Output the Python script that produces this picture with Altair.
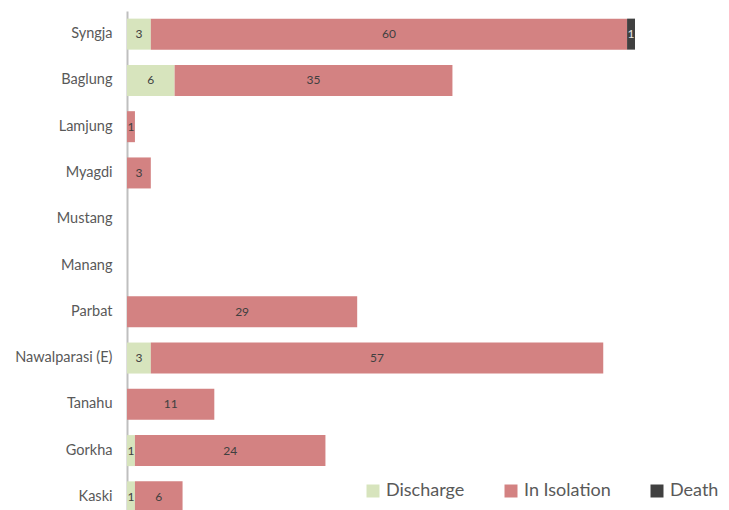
import altair as alt
import pandas as pd

districts = ["Syngja", "Baglung", "Lamjung", "Myagdi", "Mustang", "Manang",
             "Parbat", "Nawalparasi (E)", "Tanahu", "Gorkha", "Kaski"]
discharge = [3, 6, 0, 0, 0, 0, 0, 3, 0, 1, 1]
isolation = [60, 35, 1, 3, 0, 0, 29, 57, 11, 24, 6]
death = [1, 0, 0, 0, 0, 0, 0, 0, 0, 0, 0]

statuses = ["Discharge", "In Isolation", "Death"]
colors = ["#d7e4bd", "#d38282", "#404040"]

rows = []
for i, d in enumerate(districts):
    for k, (s, vals) in enumerate(zip(statuses, [discharge, isolation, death])):
        rows.append({"district": d, "status": s, "value": vals[i], "order": k})
df = pd.DataFrame(rows)

FONT = "Lato"

y_enc = alt.Y("district:N", sort=districts,
              axis=alt.Axis(title=None, ticks=False, grid=False, domain=True,
                            domainColor="#bfbfbf", domainWidth=2,
                            labelFont=FONT, labelFontSize=14.5, labelColor="#595959",
                            labelPadding=15),
              scale=alt.Scale(paddingInner=0.33, paddingOuter=0.165))

bars = alt.Chart(df).mark_bar().encode(
    y=y_enc,
    x=alt.X("value:Q", stack="zero", axis=None, scale=alt.Scale(domain=[0, 64], nice=False)),
    color=alt.Color("status:N", sort=statuses,
                    scale=alt.Scale(domain=statuses, range=colors),
                    legend=alt.Legend(title=None, orient="none", direction="horizontal",
                                      legendX=237, legendY=471,
                                      symbolType="square", symbolSize=169,
                                      symbolStrokeWidth=0,
                                      labelFont=FONT, labelFontSize=18, labelColor="#595959",
                                      labelOffset=4, columnPadding=37)),
    order=alt.Order("order:Q"),
)

labels = alt.Chart(df).transform_stack(
    stack="value", groupby=["district"], as_=["x0", "x1"],
    sort=[alt.SortField("order", order="ascending")]
).transform_calculate(
    mid="(datum.x0 + datum.x1) / 2"
).transform_filter("datum.value > 0").mark_text(
    font=FONT, fontSize=12, baseline="middle", align="center"
).encode(
    y=alt.Y("district:N", sort=districts),
    x=alt.X("mid:Q"),
    text=alt.Text("value:Q"),
    color=alt.condition("datum.status == 'Death'", alt.value("#e6e6e6"), alt.value("#404040")),
)

chart = alt.layer(bars, labels).properties(
    width=508, height=509,
    autosize=alt.AutoSizeParams(type="none"),
    padding={"left": 119, "top": 3, "right": 86, "bottom": 0},
).configure_view(stroke=None)

chart.save("out.html", embed_options={"renderer": "svg", "actions": False})
